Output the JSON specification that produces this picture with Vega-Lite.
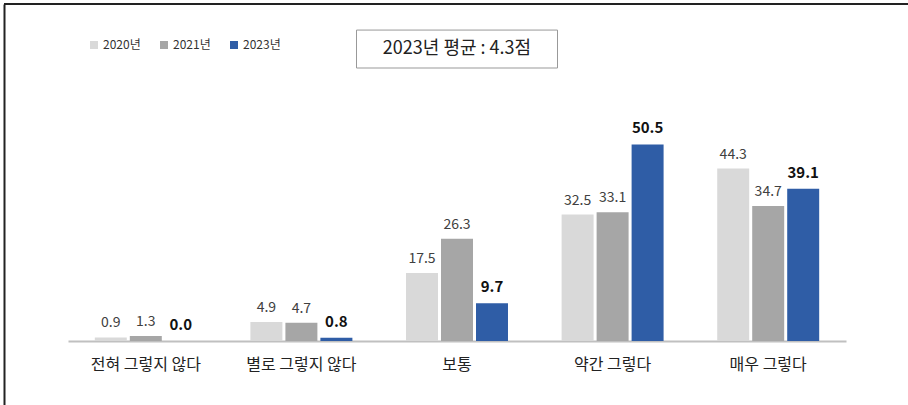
{
  "$schema": "https://vega.github.io/schema/vega-lite/v6.json",
  "width": 904,
  "height": 401,
  "padding": {"left": 4, "top": 4, "right": 0, "bottom": 0},
  "autosize": {"type": "none"},
  "background": "white",
  "config": {"view": {"stroke": null}, "font": "Noto Sans CJK KR"},
  "datasets": {
    "bars": [
      {"cat": "전혀 그렇지 않다", "year": "2020년", "value": 0.9},
      {"cat": "전혀 그렇지 않다", "year": "2021년", "value": 1.3},
      {"cat": "전혀 그렇지 않다", "year": "2023년", "value": 0.0},
      {"cat": "별로 그렇지 않다", "year": "2020년", "value": 4.9},
      {"cat": "별로 그렇지 않다", "year": "2021년", "value": 4.7},
      {"cat": "별로 그렇지 않다", "year": "2023년", "value": 0.8},
      {"cat": "보통", "year": "2020년", "value": 17.5},
      {"cat": "보통", "year": "2021년", "value": 26.3},
      {"cat": "보통", "year": "2023년", "value": 9.7},
      {"cat": "약간 그렇다", "year": "2020년", "value": 32.5},
      {"cat": "약간 그렇다", "year": "2021년", "value": 33.1},
      {"cat": "약간 그렇다", "year": "2023년", "value": 50.5},
      {"cat": "매우 그렇다", "year": "2020년", "value": 44.3},
      {"cat": "매우 그렇다", "year": "2021년", "value": 34.7},
      {"cat": "매우 그렇다", "year": "2023년", "value": 39.1}
    ],
    "note": [{"cat": "보통", "label": "2023년 평균 : 4.3점"}]
  },
  "layer": [
    {
      "data": {"name": "bars"},
      "mark": {"type": "bar"},
      "encoding": {
        "x": {
          "field": "cat", "type": "nominal",
          "sort": ["전혀 그렇지 않다", "별로 그렇지 않다", "보통", "약간 그렇다", "매우 그렇다"],
          "scale": {"range": [64, 842], "paddingInner": 0, "paddingOuter": 0},
          "axis": {"orient": "bottom", "offset": -64, "title": null, "labelAngle": 0, "domainColor": "#c0c0c0", "domainWidth": 2, "ticks": false, "tickSize": 0, "labelPadding": 15, "labelFontSize": 16, "labelColor": "#222", "labelFont": "Noto Sans CJK KR", "grid": false}
        },
        "xOffset": {"field": "year", "type": "nominal", "scale": {"paddingInner": 0.086, "paddingOuter": 0.766}},
        "y": {
          "field": "value", "type": "quantitative",
          "scale": {"domain": [-16.45, 86.6], "nice": false, "zero": false},
          "axis": {"orient": "left", "domain": true, "domainColor": "#222", "domainWidth": 2, "labels": false, "ticks": false, "grid": false, "title": null}
        },
        "y2": {"datum": 0},
        "color": {
          "field": "year", "type": "nominal",
          "scale": {"domain": ["2020년", "2021년", "2023년"], "range": ["#d9d9d9", "#a6a6a6", "#2f5da6"]},
          "legend": {"orient": "none", "legendX": 84, "legendY": 35, "direction": "horizontal", "title": null, "symbolType": "square", "symbolSize": 64, "labelFontSize": 12, "labelColor": "#333", "labelOffset": 3, "columnPadding": 17, "padding": 0, "symbolStrokeWidth": 0}
        }
      }
    },
    {
      "data": {"name": "bars"},
      "transform": [{"filter": "datum.year != '2023년'"}],
      "mark": {"type": "text", "fontSize": 14, "color": "#404040", "baseline": "alphabetic", "dy": -10},
      "encoding": {
        "x": {"field": "cat", "type": "nominal", "sort": ["전혀 그렇지 않다", "별로 그렇지 않다", "보통", "약간 그렇다", "매우 그렇다"]},
        "xOffset": {"field": "year", "type": "nominal"},
        "y": {"field": "value", "type": "quantitative"},
        "text": {"field": "value", "type": "quantitative", "format": ".1f"}
      }
    },
    {
      "data": {"name": "bars"},
      "transform": [{"filter": "datum.year == '2023년'"}],
      "mark": {"type": "text", "fontSize": 15, "fontWeight": "bold", "color": "#111", "baseline": "alphabetic", "dy": -11},
      "encoding": {
        "x": {"field": "cat", "type": "nominal", "sort": ["전혀 그렇지 않다", "별로 그렇지 않다", "보통", "약간 그렇다", "매우 그렇다"]},
        "xOffset": {"field": "year", "type": "nominal"},
        "y": {"field": "value", "type": "quantitative"},
        "text": {"field": "value", "type": "quantitative", "format": ".1f"}
      }
    },
    {
      "data": {"name": "note"},
      "mark": {"type": "rule", "color": "#222", "strokeWidth": 2},
      "encoding": {"y": {"datum": 86.6}}
    },
    {
      "data": {"name": "note"},
      "mark": {"type": "bar", "width": 201, "fill": "white", "stroke": "#999", "strokeWidth": 1},
      "encoding": {
        "x": {"field": "cat", "type": "nominal", "sort": ["전혀 그렇지 않다", "별로 그렇지 않다", "보통", "약간 그렇다", "매우 그렇다"]},
        "y": {"datum": 79.9},
        "y2": {"datum": 70.15}
      }
    },
    {
      "data": {"name": "note"},
      "mark": {"type": "text", "fontSize": 18, "color": "#222", "baseline": "middle"},
      "encoding": {
        "x": {"field": "cat", "type": "nominal", "sort": ["전혀 그렇지 않다", "별로 그렇지 않다", "보통", "약간 그렇다", "매우 그렇다"]},
        "y": {"datum": 75.0},
        "text": {"field": "label"}
      }
    }
  ]
}
